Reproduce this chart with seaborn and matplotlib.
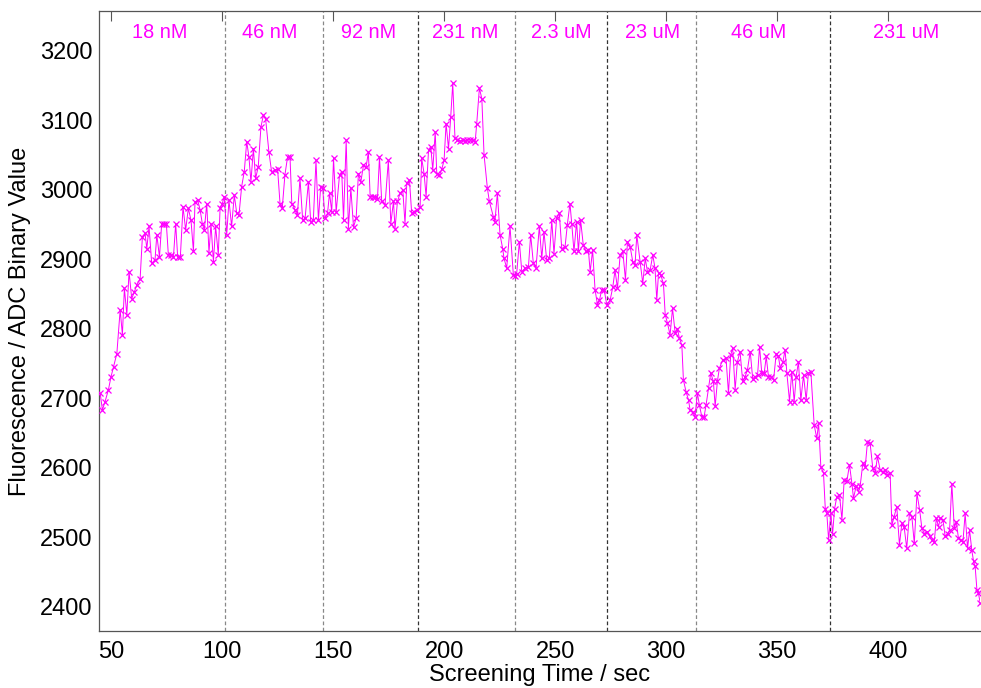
import matplotlib
matplotlib.use('Agg')
import matplotlib.pyplot as plt
import seaborn as sns
import pandas as pd

# screening time (sec) and fluorescence readings
time_sec = [
    45.1, 46.1, 47.3, 48.8, 50.0, 51.1, 52.6, 54.1, 55.1, 56.0, 57.1, 58.1, 59.3, 60.5, 61.6, 63.1,
    64.1, 65.3, 66.1, 67.1, 68.3, 69.8, 70.6, 71.8, 72.8, 74.0, 74.9, 75.8, 77.0, 78.1, 79.1, 80.0,
    81.2, 82.4, 83.6, 84.8, 86.0, 87.1, 87.8, 89.0, 90.1, 91.1, 92.0, 93.1, 94.1, 95.0, 96.1, 97.1,
    98.3, 99.1, 100.1, 101.0, 102.1, 103.1, 104.3, 105.5, 106.6, 107.6, 108.8, 110.0, 111.1, 112.1,
    113.0, 114.1, 115.1, 116.3, 117.5, 118.6, 119.6, 121.1, 122.3, 123.8, 125.0, 126.1, 127.1, 128.3,
    129.5, 130.6, 131.4, 132.9, 133.9, 135.1, 136.3, 137.4, 138.9, 139.9, 141.1, 142.3, 143.4, 144.4,
    145.3, 146.4, 147.5, 148.4, 149.4, 150.2, 151.4, 152.9, 153.9, 154.7, 155.9, 156.9, 158.0, 159.2,
    160.4, 161.4, 162.5, 163.7, 164.9, 165.9, 166.7, 167.9, 168.9, 170.0, 170.9, 171.9, 173.4, 174.9,
    176.0, 177.2, 177.9, 179.0, 180.2, 181.4, 182.4, 183.2, 184.4, 185.4, 186.5, 187.7, 189.2, 189.9,
    191.0, 191.9, 193.0, 194.0, 194.9, 196.0, 196.7, 197.9, 199.0, 200.0, 200.9, 202.0, 203.0, 203.9,
    204.9, 206.0, 207.2, 208.4, 209.5, 210.5, 211.7, 212.9, 214.0, 214.7, 215.9, 217.0, 218.0, 219.5,
    220.4, 222.2, 222.9, 224.0, 225.2, 226.4, 227.0, 228.2, 229.7, 231.2, 232.0, 232.7, 233.9, 235.0,
    236.5, 238.0, 239.0, 240.2, 241.4, 242.9, 244.0, 245.0, 246.2, 247.4, 248.5, 249.5, 250.7, 251.9,
    253.0, 254.5, 255.5, 256.7, 257.5, 258.5, 259.7, 260.5, 261.5, 262.7, 263.9, 265.0, 265.8, 266.9,
    268.0, 269.1, 270.0, 271.0, 272.1, 273.3, 274.8, 276.0, 277.0, 278.1, 279.3, 280.5, 281.7, 282.6,
    283.8, 285.0, 286.0, 286.8, 288.3, 289.5, 290.6, 291.6, 292.8, 294.0, 295.0, 295.8, 296.6, 297.6,
    298.8, 299.6, 300.6, 301.8, 302.9, 304.1, 305.1, 306.0, 307.1, 307.8, 309.0, 310.1, 310.8, 312.0,
    313.0, 314.1, 315.0, 316.1, 317.1, 318.0, 319.1, 320.1, 321.3, 322.1, 323.1, 324.0, 325.5, 327.0,
    328.1, 329.1, 330.0, 331.1, 332.1, 333.3, 334.5, 335.6, 336.6, 337.9, 339.0, 340.1, 341.2, 342.1,
    343.1, 344.2, 345.1, 346.1, 347.2, 348.4, 349.6, 350.6, 351.4, 352.6, 353.6, 354.4, 355.6, 356.6,
    357.7, 358.6, 359.6, 360.7, 361.9, 363.1, 364.1, 365.2, 366.7, 367.9, 368.7, 369.7, 370.9, 371.7,
    372.4, 373.2, 374.2, 375.0, 375.9, 376.9, 378.1, 379.2, 380.2, 381.4, 382.6, 383.7, 384.4, 385.6,
    386.7, 387.4, 388.6, 389.7, 390.7, 391.9, 393.1, 394.2, 395.2, 396.4, 397.6, 398.7, 399.7, 400.9,
    401.7, 402.7, 403.9, 405.1, 406.2, 407.2, 408.4, 409.6, 410.7, 411.8, 413.0, 414.2, 415.2, 416.3,
    417.5, 418.7, 419.7, 420.8, 421.7, 422.7, 423.5, 424.7, 425.7, 426.8, 427.7, 428.7, 429.8, 430.7,
    431.7, 432.8, 433.7, 434.7, 435.8, 436.7, 437.7, 438.5, 439.2, 440.0, 440.7, 441.5,
]
fluorescence = [
    2707, 2683, 2695, 2712, 2731, 2745, 2764, 2827, 2791, 2858, 2820, 2882, 2843, 2853, 2863, 2872,
    2932, 2937, 2915, 2947, 2894, 2899, 2935, 2903, 2951, 2951, 2951, 2906, 2906, 2903, 2951, 2903,
    2903, 2975, 2942, 2973, 2956, 2911, 2982, 2985, 2971, 2951, 2942, 2980, 2909, 2951, 2896, 2947,
    2906, 2973, 2980, 2990, 2935, 2985, 2947, 2992, 2966, 2963, 3004, 3026, 3069, 3047,
    3011, 3059, 3016, 3033, 3090, 3107, 3102, 3054, 3026, 3028, 3030, 2980, 2973, 3021,
    3047, 3047, 2980, 2971, 2963, 3016, 2956, 2959, 3011, 2954, 2956, 3042, 2956, 3004,
    3002, 2959, 2966, 2995, 2968, 3045, 2968, 3021, 3026, 2956, 3071, 2944, 3002, 2946,
    2959, 3023, 3011, 3035, 3033, 3054, 2990, 2990, 2990, 2987, 3047, 2983, 2978, 3042,
    2951, 2983, 2944, 2983, 2995, 2999, 2951, 3009, 3014, 2966, 2968, 2971, 2975, 3045,
    3023, 2990, 3057, 3062, 3028, 3083, 3023, 3021, 3030, 3042, 3095, 3059, 3105, 3153,
    3074, 3071, 3070, 3071, 3070, 3072, 3072, 3071, 3069, 3095, 3146, 3131, 3050, 3002,
    2983, 2961, 2954, 2995, 2935, 2915, 2901, 2887, 2947, 2877, 2875, 2879, 2925, 2882,
    2887, 2889, 2935, 2894, 2887, 2947, 2901, 2939, 2899, 2901, 2956, 2908, 2959, 2966,
    2915, 2918, 2949, 2980, 2951, 2911, 2954, 2911, 2956, 2920, 2911, 2913, 2882, 2913,
    2856, 2834, 2841, 2856, 2856, 2834, 2841, 2860, 2884, 2858, 2906, 2911, 2870, 2925,
    2918, 2896, 2891, 2935, 2896, 2865, 2901, 2882, 2884, 2906, 2887, 2841, 2880, 2877,
    2865, 2820, 2808, 2791, 2829, 2793, 2800, 2786, 2776, 2726, 2709, 2697, 2683, 2680,
    2673, 2707, 2690, 2673, 2673, 2690, 2714, 2736, 2724, 2688, 2724, 2743, 2755, 2757,
    2707, 2762, 2772, 2712, 2752, 2767, 2724, 2731, 2740, 2767, 2728, 2731, 2733, 2774,
    2736, 2736, 2760, 2731, 2731, 2726, 2764, 2760, 2743, 2752, 2769, 2736, 2695, 2738,
    2695, 2731, 2752, 2697, 2733, 2697, 2736, 2738, 2661, 2642, 2664, 2601, 2592, 2541,
    2534, 2496, 2534, 2505, 2541, 2558, 2561, 2525, 2582, 2580, 2604, 2577, 2556, 2573,
    2565, 2573, 2606, 2601, 2637, 2635, 2599, 2592, 2616, 2597, 2594, 2597, 2589, 2592,
    2517, 2529, 2544, 2489, 2520, 2515, 2484, 2534, 2529, 2491, 2563, 2539, 2513, 2505,
    2508, 2501, 2496, 2493, 2527, 2515, 2527, 2525, 2501, 2505, 2510, 2577, 2513, 2522,
    2498, 2496, 2493, 2534, 2484, 2510, 2481, 2465, 2458, 2424, 2419, 2405,
]

# concentration step boundaries and labels
boundaries = [101.4, 145.3, 188.1, 232.0, 273.6, 313.5, 373.7]
boundary_dark = [False, False, True, False, True, False, True]
conc_labels = ['18 nM', '46 nM', '92 nM', '231 nM', '2.3 uM', '23 uM', '46 uM', '231 uM']
label_pos = [71.8, 121.4, 165.8, 209.6, 253.0, 293.7, 341.7, 408.3]

df = pd.DataFrame({'time': time_sec, 'fluor': fluorescence})

sns.set_style('white')
plt.rcParams['font.family'] = ['Liberation Sans', 'DejaVu Sans']

fig = plt.figure(figsize=(9.81, 6.88), dpi=100)
ax = fig.add_axes([0.101, 0.083, 0.898, 0.901])

for b, dark in zip(boundaries, boundary_dark):
    ax.axvline(b, color='#333333' if dark else '#888888', linestyle=(0, (3, 2)), linewidth=0.9, zorder=1)

sns.lineplot(data=df, x='time', y='fluor', ax=ax, color='#ff00ff', linewidth=0.7,
             marker='x', markersize=5, markeredgewidth=0.9, markeredgecolor='#ff00ff',
             estimator=None, sort=False, zorder=3)

for lab, xp in zip(conc_labels, label_pos):
    ax.text(xp, 3226, lab, color='#ff00ff', fontsize=14.3, ha='center', va='center')

ax.set_xlim(44.6, 441.4)
ax.set_ylim(2365, 3257)
ax.set_xticks([50, 100, 150, 200, 250, 300, 350, 400])
ax.set_yticks([2400, 2500, 2600, 2700, 2800, 2900, 3000, 3100, 3200])

ax.tick_params(axis='both', direction='in', length=7, width=0.8, color='#555555',
               labelsize=17, labelcolor='black', top=True, right=False)
ax.tick_params(axis='x', pad=7)
ax.tick_params(axis='y', pad=5)
for s in ax.spines.values():
    s.set_color('#555555')
    s.set_linewidth(0.9)
ax.spines['right'].set_visible(False)

ax.set_xlabel('Screening Time / sec', fontsize=17, labelpad=1, color='black')
ax.set_ylabel('Fluorescence / ADC Binary Value', fontsize=17, labelpad=6, color='black')

fig.savefig('out.png', dpi=100)
